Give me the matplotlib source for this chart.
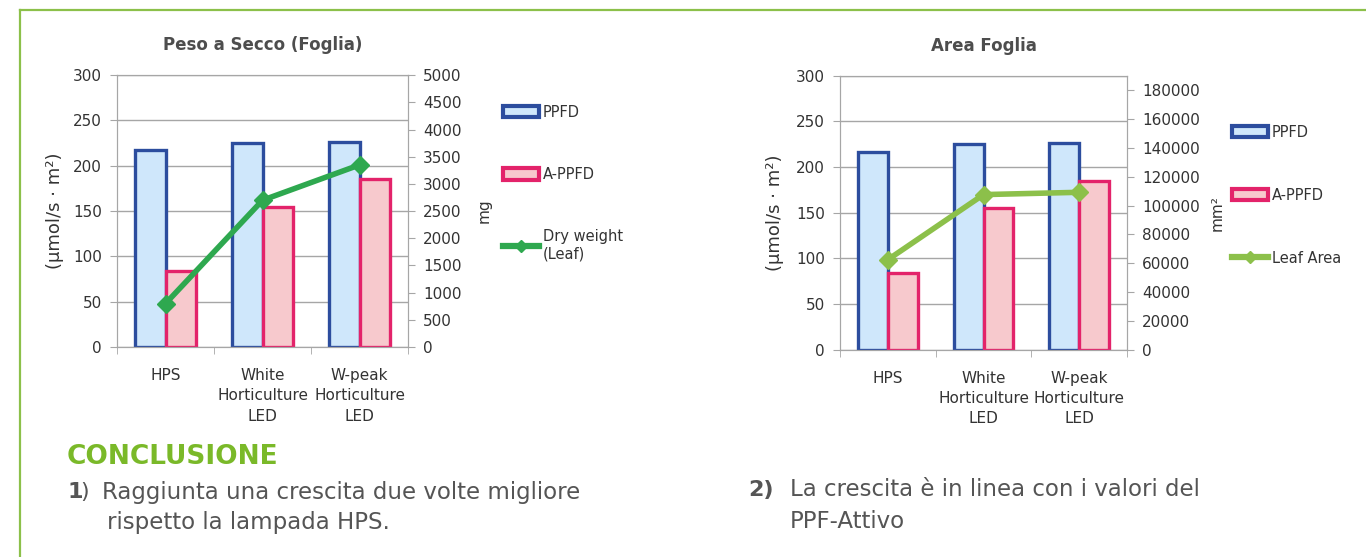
import numpy as np
import matplotlib.pyplot as plt
from matplotlib.lines import Line2D
from matplotlib.patches import Patch

plt.rcParams['font.family'] = ['DejaVu Sans']

# data
categories = ['HPS', 'White\nHorticulture\nLED', 'W-peak\nHorticulture\nLED']
ppfd = [217, 225, 226]
a_ppfd = [84, 155, 185]
dry_weight = [800, 2700, 3350]        # mg
leaf_area = [62500, 107600, 109200]   # mm2

left_ticks = [0, 50, 100, 150, 200, 250, 300]
mg_ticks = list(range(0, 5001, 500))
mm2_ticks = list(range(0, 180001, 20000))

blue_edge = '#2c4d9e'
blue_fill = '#cfe7fb'
pink_edge = '#e3236a'
pink_fill = '#f7c9cd'
grid_gray = '#a6a6a6'
text_gray = '#333333'

fig = plt.figure(figsize=(13.66, 5.57), dpi=100)

# green frame
fig.add_artist(Line2D([0.0146, 1.0], [0.982, 0.982], transform=fig.transFigure, color='#8cc04a', lw=1.6))
fig.add_artist(Line2D([0.0146, 0.0146], [0.0, 0.982], transform=fig.transFigure, color='#8cc04a', lw=1.6))


def draw_chart(rect, title, line_vals, line_color, line_label, r_ticks, r_max, r_label, r_label_x, y_label_x,
               leg_anchor, leg_space):
    ax = fig.add_axes(rect)
    x = np.arange(len(categories))
    w = 0.31
    ax.bar(x - w / 2, ppfd, w, color=blue_fill, edgecolor=blue_edge, linewidth=2.4, label='PPFD', zorder=2)
    ax.bar(x + w / 2, a_ppfd, w, color=pink_fill, edgecolor=pink_edge, linewidth=2.4, label='A-PPFD', zorder=2)
    ax.set_xlim(-0.5, 2.5)
    ax.set_ylim(0, 300)
    ax.set_yticks(left_ticks)
    ax.yaxis.grid(True, color=grid_gray, lw=1.0, zorder=0)
    ax.set_axisbelow(True)
    ax.set_xticks(x)
    ax.set_xticklabels(categories, fontsize=11, color=text_gray, linespacing=1.45)
    ax.set_xticks([-0.5, 0.5, 1.5, 2.5], minor=True)
    ax.tick_params(axis='x', which='major', length=0, pad=15)
    ax.tick_params(axis='x', which='minor', length=5, color=grid_gray)
    ax.tick_params(axis='y', length=5, color=grid_gray, labelsize=11, labelcolor=text_gray, pad=6)
    for s in ax.spines.values():
        s.set_color(grid_gray)
    ax.set_ylabel('(µmol/s · m²)', fontsize=13, color=text_gray)
    ax.yaxis.set_label_coords(y_label_x, 0.5)
    ax.set_title(title, fontsize=12, fontweight='bold', color='#4d4d4d', pad=18)

    ax2 = ax.twinx()
    ax2.plot(x, line_vals, color=line_color, lw=4, marker='D', markersize=9, label=line_label, zorder=3)
    ax2.set_ylim(0, r_max)
    ax2.set_yticks(r_ticks)
    ax2.tick_params(axis='y', length=5, color=grid_gray, labelsize=11, labelcolor=text_gray, pad=6)
    for s in ax2.spines.values():
        s.set_color(grid_gray)
    ax2.set_ylabel(r_label, fontsize=11, color=text_gray)
    ax2.yaxis.set_label_coords(r_label_x, 0.5)

    handles = [Patch(facecolor=blue_fill, edgecolor=blue_edge, lw=3),
               Patch(facecolor=pink_fill, edgecolor=pink_edge, lw=3),
               Line2D([], [], color=line_color, lw=4.5, marker='D', markersize=6)]
    ax2.legend(handles, ['PPFD', 'A-PPFD', line_label], loc='upper left', bbox_to_anchor=leg_anchor,
               frameon=False, fontsize=10.5, handlelength=2.5, handleheight=0.85, handletextpad=0.25,
               labelspacing=leg_space, labelcolor=text_gray)
    return ax


draw_chart([0.0857, 0.377, 0.213, 0.488], 'Peso a Secco (Foglia)', dry_weight, '#2ea84f',
           'Dry weight\n(Leaf)', mg_ticks, 5000, 'mg', 1.237, -0.182, (1.28, 0.94), 3.25)
draw_chart([0.615, 0.372, 0.210, 0.492], 'Area Foglia', leaf_area, '#8cc04a',
           'Leaf Area', mm2_ticks, 190000, 'mm²', 1.289, -0.195, (1.32, 0.87), 3.3)

fig.text(67 / 1366, 1 - 457 / 557, 'CONCLUSIONE', fontsize=19, fontweight='bold', color='#7ab929', va='center')
fig.text(67 / 1366, 1 - 492 / 557, '1', fontsize=16, fontweight='bold', color='#555555', va='center')
fig.text(80 / 1366, 1 - 492 / 557, ')', fontsize=16, color='#555555', va='center')
fig.text(102 / 1366, 1 - 492 / 557, 'Raggiunta una crescita due volte migliore', fontsize=16.5, color='#555555', va='center')
fig.text(107 / 1366, 1 - 523 / 557, 'rispetto la lampada HPS.', fontsize=16.5, color='#555555', va='center')
fig.text(748 / 1366, 1 - 490 / 557, '2)', fontsize=16, fontweight='bold', color='#555555', va='center')
fig.text(790 / 1366, 1 - 490 / 557, 'La crescita è in linea con i valori del', fontsize=16.5, color='#555555', va='center')
fig.text(790 / 1366, 1 - 521 / 557, 'PPF-Attivo', fontsize=16.5, color='#555555', va='center')

fig.savefig('out.png', dpi=100)
